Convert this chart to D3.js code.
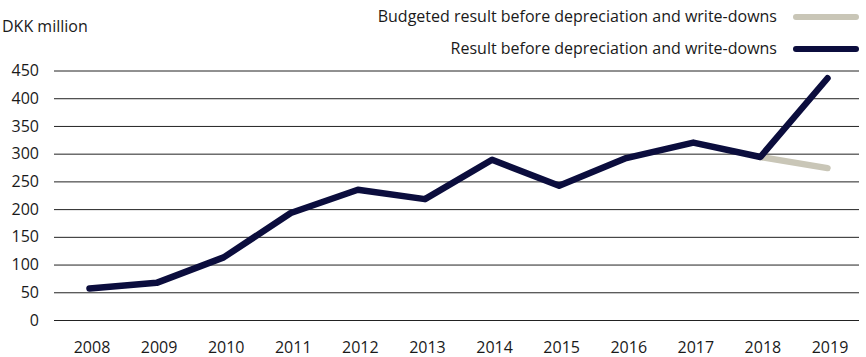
<!DOCTYPE html>
<html>
<head>
<meta charset="utf-8">
<script src="https://cdn.jsdelivr.net/npm/d3@7"></script>
<style>
  html, body { margin: 0; padding: 0; background: #ffffff; }
  svg text { font-family: "Open Sans", "Noto Sans", sans-serif; fill: #1a1a1a; }
</style>
</head>
<body>
<svg id="chart" width="866" height="357"></svg>
<script>
// Years on the category axis
const years = ["2008","2009","2010","2011","2012","2013","2014","2015","2016","2017","2018","2019"];
// Result before depreciation and write-downs (DKK million)
const actual = [57, 67, 113, 193, 235, 218, 289, 242, 292, 320, 294, 436];
// Budgeted result, shown for the final two years only
const budgetYears = ["2018", "2019"];
const budget = [294, 274];
// Value axis ticks
const yTicks = [0, 50, 100, 150, 200, 250, 300, 350, 400, 450];
const seriesNames = ["Budgeted result before depreciation and write-downs", "Result before depreciation and write-downs"];
const colors = { budget: "#c9c6b7", actual: "#0b0d3d", grid: "#222222" };

const svg = d3.select("#chart");
const gridLeft = 54, gridRight = 859;

const x = d3.scalePoint().domain(years).range([89.5, 827.5]);
const y = d3.scaleLinear().domain([0, 450]).range([320, 70.5]);

// Horizontal gridlines with value labels
const yAxis = d3.axisLeft(y).tickValues(yTicks).tickSize(0).tickPadding(0).tickFormat(d3.format("d"));
const gy = svg.append("g").attr("transform", `translate(${gridLeft},0)`).call(yAxis);
gy.select(".domain").remove();
gy.selectAll(".tick line")
  .attr("x2", gridRight - gridLeft)
  .attr("stroke", colors.grid)
  .attr("stroke-width", 1);
gy.selectAll(".tick text")
  .attr("x", 39 - gridLeft)
  .attr("font-size", 16)
  .attr("font-family", null)
  .attr("fill", "#1a1a1a");

// Category labels along the bottom
const xAxis = d3.axisBottom(x).tickSize(0).tickPadding(0);
const gx = svg.append("g").attr("transform", "translate(2,0)").call(xAxis);
gx.select(".domain").remove();
gx.selectAll(".tick text")
  .attr("y", 353)
  .attr("dy", null)
  .attr("font-size", 16)
  .attr("font-family", null)
  .attr("fill", "#1a1a1a");

// Unit label
svg.append("text").attr("x", 2).attr("y", 32).attr("font-size", 16).text("DKK million");

const line = d3.line().x(d => x(d[0])).y(d => y(d[1]));

// Budget line sits underneath the actual result
svg.append("path")
  .datum(budgetYears.map((yr, i) => [yr, budget[i]]))
  .attr("d", line)
  .attr("fill", "none")
  .attr("stroke", colors.budget)
  .attr("stroke-width", 6.5)
  .attr("stroke-linecap", "round")
  .attr("stroke-linejoin", "round");

svg.append("path")
  .datum(years.map((yr, i) => [yr, actual[i]]))
  .attr("d", line)
  .attr("fill", "none")
  .attr("stroke", colors.actual)
  .attr("stroke-width", 6.5)
  .attr("stroke-linecap", "round")
  .attr("stroke-linejoin", "round");

// Legend
const legend = svg.append("g");
const legendRows = [
  { name: seriesNames[0], color: colors.budget, y: 17 },
  { name: seriesNames[1], color: colors.actual, y: 49 }
];
legendRows.forEach(r => {
  legend.append("line")
    .attr("x1", 796).attr("x2", 856)
    .attr("y1", r.y).attr("y2", r.y)
    .attr("stroke", r.color).attr("stroke-width", 6)
    .attr("stroke-linecap", "round");
  legend.append("text")
    .attr("x", 777).attr("y", r.y + 5)
    .attr("text-anchor", "end")
    .attr("font-size", 16)
    .text(r.name);
});
</script>
</body>
</html>
